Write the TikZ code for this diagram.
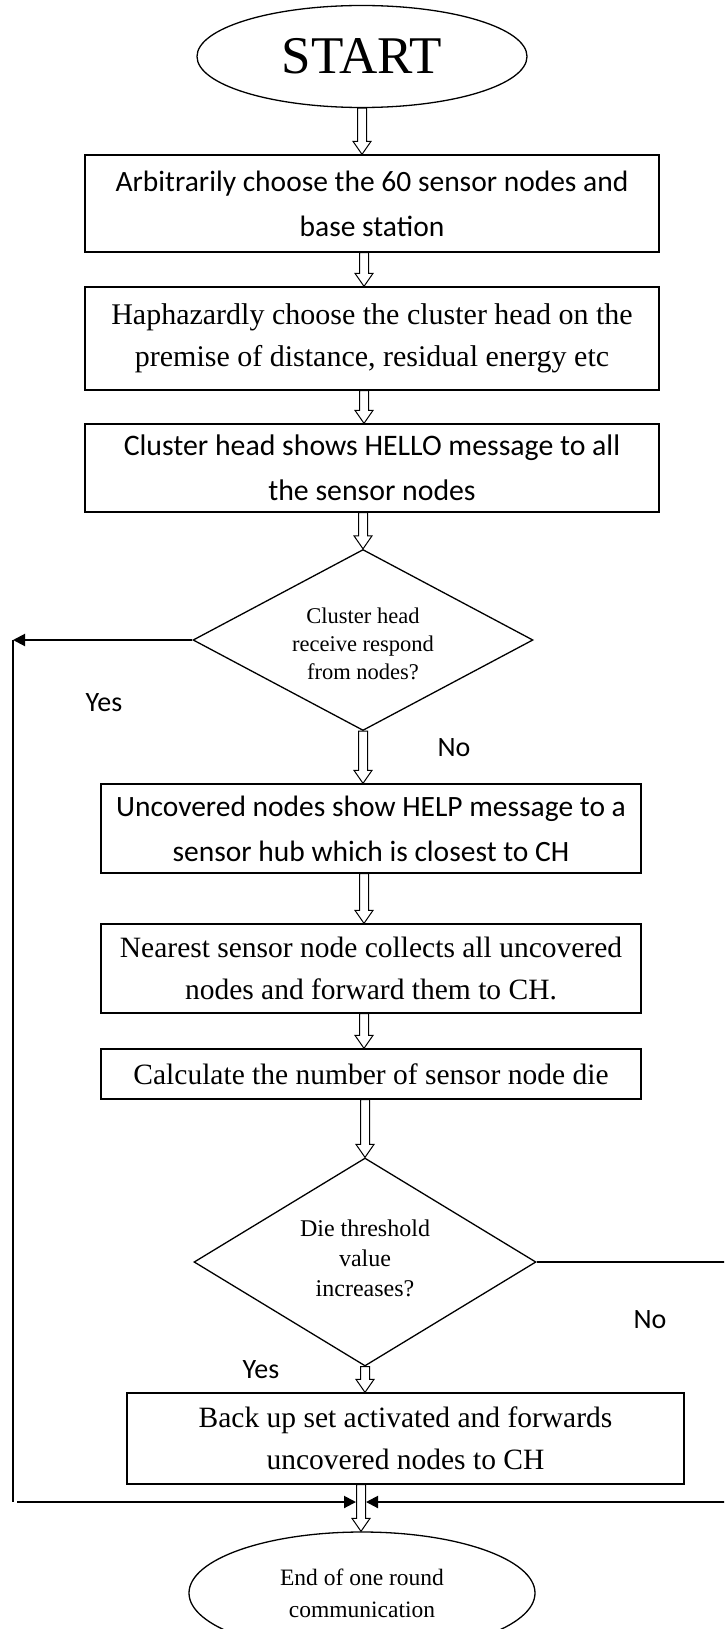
\documentclass[tikz,border=0pt]{standalone}
\usepackage{fontspec}
\setmainfont{Liberation Serif}
\newfontfamily\calib{Carlito}
\usetikzlibrary{shapes.geometric,arrows.meta,calc}
\tikzset{
  box/.style={draw, line width=1.3pt, rectangle, inner sep=0pt, align=center},
  ser/.style={font=\fontsize{29.5}{42}\selectfont},
  cal/.style={font=\calib\fontsize{29.5}{45}\selectfont},
  hollow/.style={draw, line width=1pt, fill=white},
  loopline/.style={line width=2pt},
  thinline/.style={line width=1.3pt},
  tipa/.style={-{Triangle[length=12pt,width=12pt]}},
  lbl/.style={font=\calib\fontsize{28}{30}\selectfont},
  dia/.style={draw, diamond, line width=1.3pt, inner sep=0pt},
  ell/.style={draw, ellipse, line width=1.3pt, inner sep=0pt, align=center},
}
\newcommand{\harrow}[2]{%
  \path (#1) coordinate (ha1) (#2) coordinate (ha2);
  \draw[hollow] let \p1=(ha1), \p2=(ha2) in
    (\x1-4.5pt,\y1) -- (\x1-4.5pt,\y2+13pt) -- (\x1-9pt,\y2+13pt) -- (\x1,\y2)
    -- (\x1+9pt,\y2+13pt) -- (\x1+4.5pt,\y2+13pt) -- (\x1+4.5pt,\y1) -- cycle;
}
\begin{document}
\begin{tikzpicture}[x=1pt,y=-1pt]
\clip (0,0) rectangle (724,1629);
\fill[white] (0,0) rectangle (724,1629);
\coordinate (ax) at (364,0);
\coordinate (bx) at (361,0);

\node[ell, minimum width=330pt, minimum height=102pt, font=\fontsize{53}{60}\selectfont] (start) at (362,56.5) {START};
\node[box, cal, minimum width=574pt, minimum height=97pt] (b1) at (372,203.5)
  {Arbitrarily choose the 60 sensor nodes and\\base station};
\node[box, ser, font=\fontsize{30}{42}\selectfont, minimum width=574pt, minimum height=103pt] (b2) at (372,338.5)
  {Haphazardly choose the cluster head on the\\premise of distance, residual energy etc};
\node[box, cal, font=\calib\fontsize{29.8}{45}\selectfont, minimum width=574pt, minimum height=88pt] (b3) at (372,468)
  {Cluster head shows HELLO message to all\\the sensor nodes};
\node[dia, minimum width=340pt, minimum height=181pt] (d1) at (363,640) {};
\node[font=\fontsize{22.5}{28}\selectfont, align=center] (d1t) at (363,644)
  {Cluster head\\receive respond\\from nodes?};
\node[box, cal, minimum width=540pt, minimum height=89pt] (b4) at (371,828.5)
  {Uncovered nodes show HELP message to a\\sensor hub which is closest to CH};
\node[box, ser, minimum width=540pt, minimum height=89pt] (b5) at (371,968.5)
  {Nearest sensor node collects all uncovered\\nodes and forward them to CH.};
\node[box, ser, minimum width=540pt, minimum height=50pt] (b6) at (371,1074)
  {Calculate the number of sensor node die};
\node[dia, minimum width=342pt, minimum height=208pt] (d2) at (365,1262) {};
\node[font=\fontsize{24}{30}\selectfont, align=center] (d2t) at (365,1258)
  {Die threshold\\value\\increases?};
\node[box, ser, minimum width=557pt, minimum height=91pt] (b7) at (405.5,1438.5)
  {Back up set activated and forwards\\uncovered nodes to CH};
\node[ell, minimum width=346pt, minimum height=122pt, font=\fontsize{23.5}{32}\selectfont] (end) at (362,1593)
  {End of one round\\communication};

\node[lbl] (yes1) at (104,703) {Yes};
\node[lbl] (no1) at (454,748) {No};
\node[lbl] (no2) at (650,1320) {No};
\node[lbl] (yes2) at (261,1370) {Yes};

\harrow{start.south}{b1.north -| start.south}
\harrow{b1.south -| ax}{b2.north -| ax}
\harrow{b2.south -| ax}{b3.north -| ax}
\harrow{b3.south -| d1.north}{d1.north}
\harrow{d1.south}{b4.north -| d1.south}
\harrow{b4.south -| ax}{b5.north -| ax}
\harrow{b5.south -| ax}{b6.north -| ax}
\harrow{b6.south -| d2.north}{d2.north}
\harrow{d2.south}{b7.north -| d2.south}
\harrow{b7.south -| bx}{end.north -| bx}

\coordinate (ltop) at (13,640);
\coordinate (lbot) at (13,1502);
\coordinate (lstart) at (17,1502);
\coordinate (rmid) at (740,1262);
\coordinate (rbot) at (740,1502);
\coordinate (mleft) at (356,1502);
\coordinate (mright) at (366,1502);

\draw[loopline, tipa] (d1.west) -- (ltop);
\draw[thinline] (ltop) -- (lbot);
\draw[loopline, tipa] (lstart) -- (mleft);
\draw[loopline, tipa] (d2.east) -- (rmid) -- (rbot) -- (mright);
\end{tikzpicture}
\end{document}
